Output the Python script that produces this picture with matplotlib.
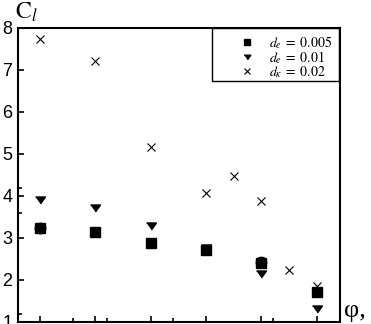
import matplotlib
matplotlib.use("Agg")
import matplotlib.pyplot as plt
from matplotlib.patches import Rectangle

# values (x is the position index along phi)
x_sq = [1, 2, 3, 4, 5, 6]
cl_sq = [3.25, 3.14, 2.88, 2.71, 2.41, 1.71]

x_circ = [1, 5]
cl_circ = [3.25, 2.43]

x_tri = [1, 2, 3, 4, 5, 6]
cl_tri = [3.90, 3.72, 3.29, 2.76, 2.15, 1.31]

x_cross = [1, 2, 3, 4, 4.5, 5, 5.5, 6]
cl_cross = [7.74, 7.21, 5.17, 4.06, 4.48, 3.87, 2.23, 1.86]

labels = [r"$d_e\;=\;0.005$", r"$d_e\;=\;0.01$", r"$d_\kappa\;=\;0.02$"]
y_major = [1, 2, 3, 4, 5, 6, 7, 8]
y_minor = [1.2, 3.6, 4.2]
x_major = [1, 2, 3, 4, 5, 6]
x_minor = [1.6, 2.2, 3.4, 5.2]

plt.rcParams["font.family"] = ["Liberation Sans", "DejaVu Sans"]
plt.rcParams["mathtext.fontset"] = "stix"

W, H = 371, 324
fig = plt.figure(figsize=(W / 100, H / 100), dpi=100)
ax = fig.add_axes([18 / W, 1 - 322 / H, 322 / W, 294 / H])

tri = [(-1, 0.7), (1, 0.7), (0, -0.7)]
ax.plot(x_circ, cl_circ, "o", color="black", ms=7.5, zorder=3)
h1, = ax.plot(x_sq, cl_sq, "s", color="black", ms=6.5, label=labels[0], zorder=3)
h2, = ax.plot(x_tri, cl_tri, marker=tri, ls="none", color="black", ms=7.2,
              label=labels[1], zorder=3)
h3, = ax.plot(x_cross, cl_cross, "x", color="black", ms=6, mew=0.8,
              label=labels[2], zorder=3)

ax.set_xlim(0.6, 6.42)
ax.set_ylim(1, 8)
ax.set_yticks(y_major)
ax.set_yticks(y_minor, minor=True)
ax.set_xticks(x_major)
ax.set_xticks(x_minor, minor=True)
ax.set_xticklabels([])
ax.tick_params(which="both", direction="in", width=1.2, colors="black")
ax.tick_params(which="major", length=4.5)
ax.tick_params(which="minor", length=3)
ax.tick_params(axis="y", labelsize=13, pad=4)
for s in ax.spines.values():
    s.set_linewidth(1.5)

# legend box
ax.add_patch(Rectangle(((212 - 18) / 322, 1 - (81 - 28) / 294),
                       (339 - 212) / 322, (81 - 28) / 294,
                       transform=ax.transAxes, fill=False, lw=1.0,
                       edgecolor="black", zorder=4))
leg = ax.legend(handles=[h1, h2, h3], loc="upper left", frameon=False,
                bbox_to_anchor=((233 - 18) / 322, 1 + 1 / 294),
                fontsize=10, labelspacing=-0.13, handlelength=1.0,
                handletextpad=1.1, borderpad=0.0, markerscale=0.66)
leg.set_zorder(5)

fig.text(15 / W, 1 - 12 / H, r"$\mathrm{C}_l$", fontsize=17, va="center")
fig.text(344 / W, 1 - 311 / H, "φ,", fontsize=19, va="center",
         family=["Liberation Serif", "DejaVu Serif"])

fig.savefig("out.png", dpi=100)
